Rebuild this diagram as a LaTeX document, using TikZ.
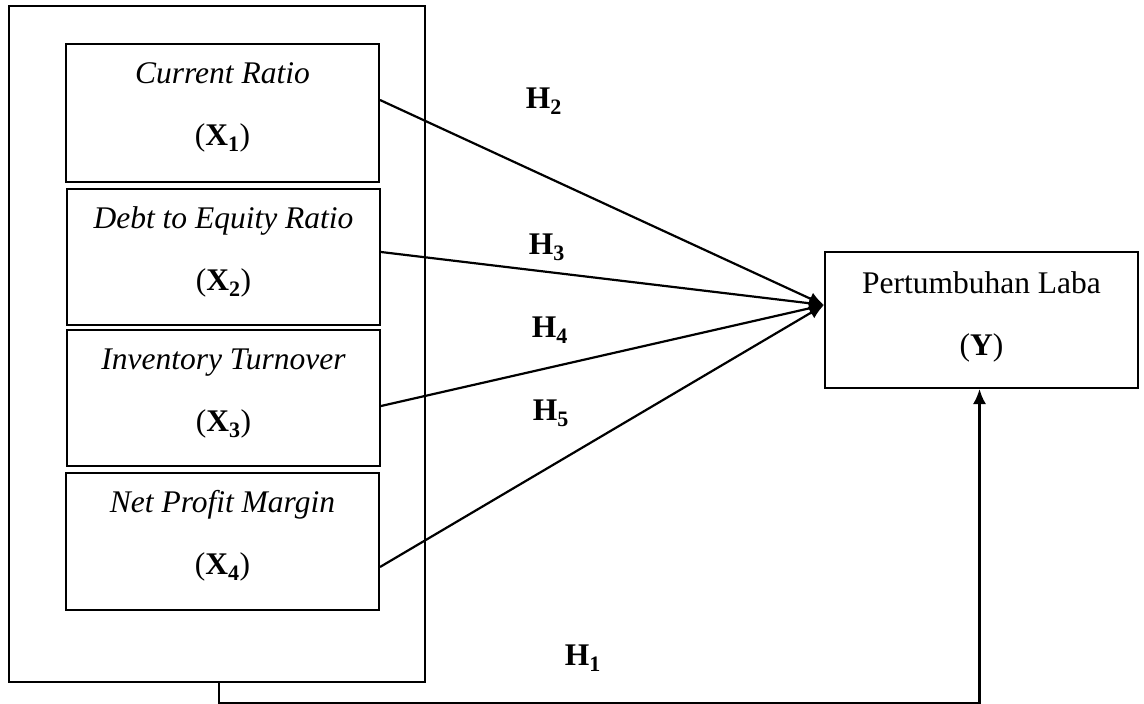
\documentclass[tikz,border=0pt]{standalone}
\usepackage{fontspec}
\setmainfont{Liberation Serif}
\usetikzlibrary{arrows.meta,calc}
\newcommand{\lowfill}[1]{\rule[-#1]{0pt}{#1}}
\begin{document}
\begin{tikzpicture}[x=1pt,y=-1pt,
 box/.style={draw,line width=2pt,inner sep=0pt,align=center,font=\fontsize{31.5}{62}\selectfont},
 conn/.style={line width=2.2pt,-{Latex[length=15pt,width=13pt]}},
 hlab/.style={font=\fontsize{31.5}{38}\selectfont\bfseries,inner sep=0pt}]
\useasboundingbox (0,0) rectangle (1144,704);
\fill[white] (0,0) rectangle (1144,704);
\node[box,minimum width=416pt,minimum height=676pt] (outer) at (217,344) {};
\node[box,minimum width=313pt,minimum height=138pt] (box1) at (222.5,113)
  {\textit{Current Ratio}\\(\textbf{X\textsubscript{1}})\lowfill{18pt}};
\node[box,minimum width=313pt,minimum height=136pt] (box2) at (223.5,257)
  {\textit{Debt to Equity Ratio}\\(\textbf{X\textsubscript{2}})\lowfill{17pt}};
\node[box,minimum width=313pt,minimum height=136pt] (box3) at (223.5,398)
  {\textit{Inventory Turnover}\\(\textbf{X\textsubscript{3}})\lowfill{16pt}};
\node[box,minimum width=313pt,minimum height=137pt] (box4) at (222.5,541.5)
  {\textit{Net Profit Margin}\\(\textbf{X\textsubscript{4}})\lowfill{18pt}};
\node[box,minimum width=313pt,minimum height=136pt] (Y) at (981.5,320)
  {Pertumbuhan Laba\\(\textbf{Y})\lowfill{13pt}};
\coordinate (tip) at ($(Y.west)+(0,-15)$);
\coordinate (s1) at ($(box1.east)+(0,-13)$);
\coordinate (s2) at ($(box2.east)+(0,-5)$);
\coordinate (s3) at ($(box3.east)+(0,8)$);
\coordinate (s4) at ($(box4.east)+(0,25.5)$);
\draw[conn] (s1) -- (tip);
\draw[conn] (s2) -- (tip);
\draw[conn] (s3) -- (tip);
\draw[conn] (s4) -- (tip);
\draw[conn] ($(outer.south)+(2,0)$) -- ++(0,20.5) -| ($(Y.south)+(-2,0)$);
\node[hlab] (h2) at (544,101) {H\textsubscript{2}};
\node[hlab] (h3) at (547,247) {H\textsubscript{3}};
\node[hlab] (h4) at (550,330) {H\textsubscript{4}};
\node[hlab] (h5) at (551,413) {H\textsubscript{5}};
\node[hlab] (h1) at (583,658) {H\textsubscript{1}};
\end{tikzpicture}
\end{document}
